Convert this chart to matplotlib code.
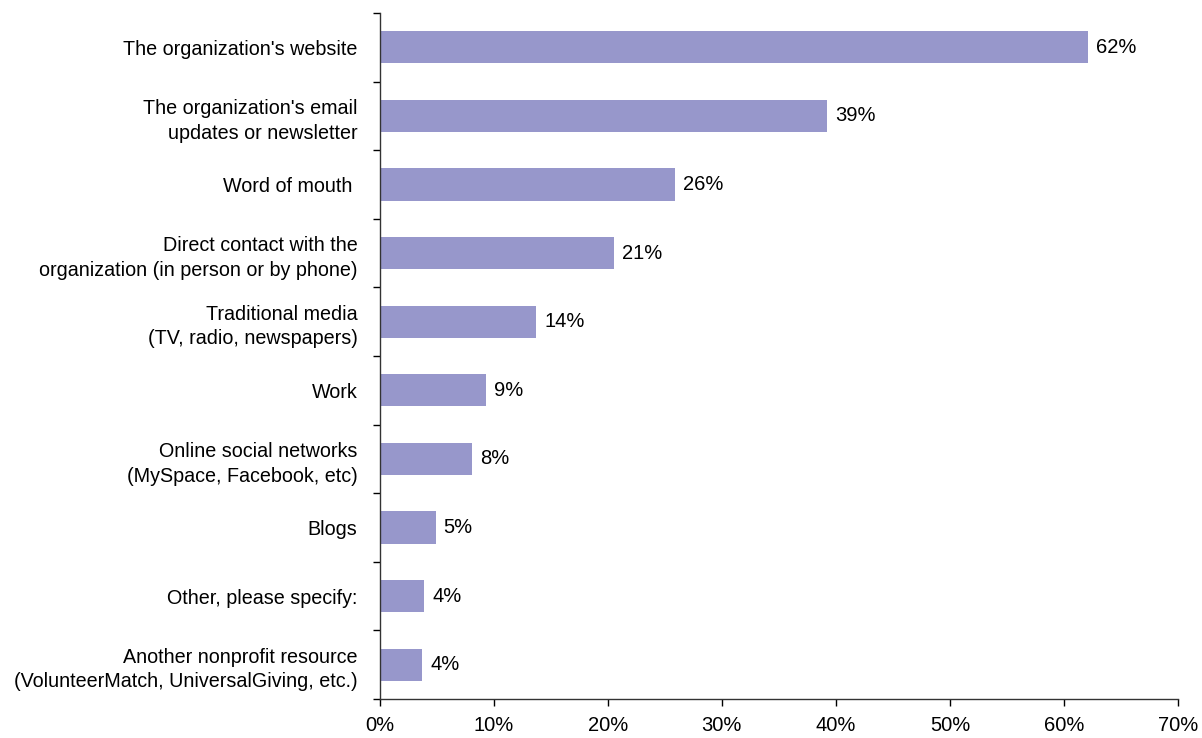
import numpy as np
import matplotlib.pyplot as plt
from matplotlib.ticker import FixedLocator, PercentFormatter

plt.rcParams['font.family'] = ['Liberation Sans', 'DejaVu Sans']

categories = [
    "The organization's website",
    "The organization's email\nupdates or newsletter",
    "Word of mouth ",
    "Direct contact with the\norganization (in person or by phone)",
    "Traditional media\n(TV, radio, newspapers)",
    "Work",
    "Online social networks\n(MySpace, Facebook, etc)",
    "Blogs",
    "Other, please specify:",
    "Another nonprofit resource\n(VolunteerMatch, UniversalGiving, etc.)",
]
values = [62.1, 39.2, 25.9, 20.5, 13.7, 9.3, 8.1, 4.9, 3.9, 3.7]
labels = ["62%", "39%", "26%", "21%", "14%", "9%", "8%", "5%", "4%", "4%"]

fig = plt.figure(figsize=(12.02, 7.38), dpi=100)
ax = fig.add_axes([0.316, 0.0528, 0.664, 0.9296])

n = len(categories)
y = np.arange(n)
ax.barh(y, values, height=0.47, color='#9797CB')

for yi, v, lab in zip(y, values, labels):
    ax.text(v + 0.7, yi, lab, va='center', ha='left', fontsize=14.5)

ax.set_ylim(n - 0.5, -0.5)
ax.set_xlim(0, 70)
ax.set_yticks(y)
ax.set_yticklabels(categories, fontsize=14.2, linespacing=1.38)
ax.tick_params(axis='y', which='major', length=0, pad=16)
ax.yaxis.set_minor_locator(FixedLocator(np.arange(-0.5, n, 1)))
ax.tick_params(axis='y', which='minor', length=5, width=1, direction='out')

ax.set_xticks(np.arange(0, 71, 10))
ax.xaxis.set_major_formatter(PercentFormatter(decimals=0))
ax.tick_params(axis='x', length=5, width=1, labelsize=14.5, pad=7)

for s in ['top', 'right']:
    ax.spines[s].set_visible(False)
for s in ['left', 'bottom']:
    ax.spines[s].set_color('#333333')
    ax.spines[s].set_linewidth(1)

fig.savefig('out.png', dpi=100)
